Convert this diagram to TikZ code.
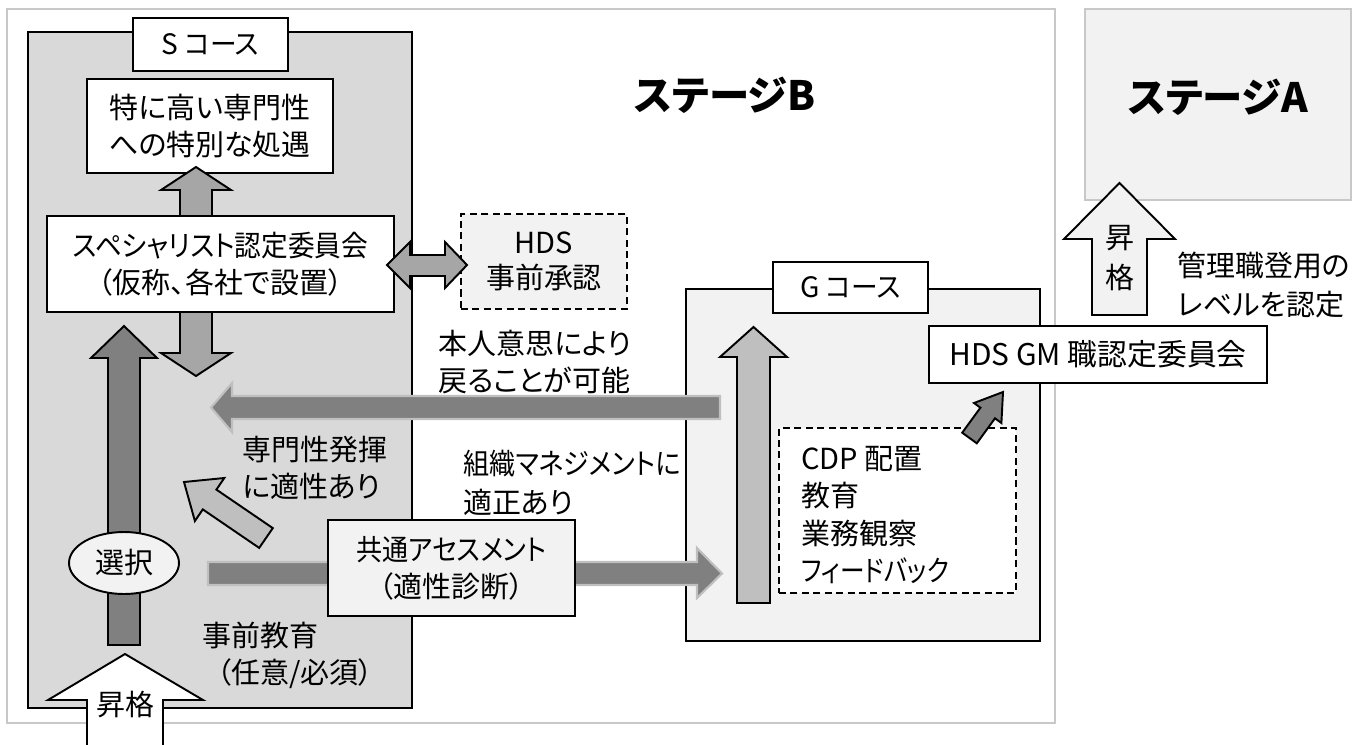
\documentclass[tikz,border=0pt]{standalone}
\usepackage{graphicx}
\usepackage{fontspec}
\setmainfont{Noto Sans CJK JP}[RawFeature=+palt]
\usetikzlibrary{fit,shapes.geometric}
\definecolor{dk}{HTML}{808080}
\definecolor{md}{HTML}{A6A6A6}
\definecolor{lt}{HTML}{BFBFBF}
\definecolor{sb}{HTML}{D9D9D9}
\definecolor{pale}{HTML}{F2F2F2}
\definecolor{edge}{HTML}{C8C8C8}
\newcommand{\sq}[2]{\scalebox{#1}[1]{#2}}
\begin{document}
\begin{tikzpicture}[x=0.02cm,y=-0.02cm,
  font=\fontsize{16.5}{21}\selectfont,
  bx/.style={draw=black,line width=1.1pt,inner sep=0pt},
  dbx/.style={bx,dash pattern=on 4pt off 2.5pt},
  stg/.style={draw=edge,line width=1.2pt,inner sep=0pt},
  txt/.style={inner sep=0pt,align=center},
  blk/.style={draw=black,line width=1.1pt,line join=miter},
  flat/.style={fill=dk,draw=lt,line width=1.2pt,line join=miter},
  lbl/.style={inner sep=0pt,align=left,anchor=west},
  ttl/.style={font=\fontsize{23}{26}\selectfont\bfseries,inner sep=0pt}]
\useasboundingbox (0,0) rectangle (1365,744);
% stages
\node[stg,fit={(7,9)(1055,723)}] (stB) {};
\node[stg,fill=pale,fit={(1085,9)(1351,200)}] (stA) {};
\node[ttl] (tB) at (725,95) {ステージB};
\node[ttl] (tA) at (1218,97) {ステージA};
% courses
\node[bx,fill=sb,fit={(28,32)(412,708)}] (sC) {};
\node[bx,fill=pale,fit={(686,289)(1040,641)}] (gC) {};
\node[bx,fill=white,fit={(133,18)(288,71)}] (sL) {};
\node[txt,font=\fontsize{16}{21}\selectfont] (sLt) at (sL) {S \sq{0.95}{コース}};
\node[bx,fill=white,fit={(773,262)(928,313)}] (gL) {};
\node[txt,font=\fontsize{16}{21}\selectfont] (gLt) at (gL) {G \sq{0.95}{コース}};
% boxes
\node[bx,fill=white,fit={(87,79)(333,173)}] (toku) {};
\node[txt] (tokut) at (toku) {特に高い専門性\\への特別な処遇};
\node[bx,fill=white,fit={(47,216)(394,312)}] (spec) {};
\node[txt] (spect) at (spec) {\sq{0.92}{スペシャリスト認定委員会}\\（仮称、各社で設置）};
\node[dbx,fill=pale,fit={(461,214)(627,309)}] (hds) {};
\node[txt,font=\fontsize{16.5}{19.8}\selectfont] (hdst) at (hds) {HDS\\事前承認};
\node[bx,fill=white,fit={(929,326)(1267,383)}] (gm) {};
\node[txt,font=\fontsize{17}{21}\selectfont] (gmt) at (gm) {HDS GM 職認定委員会};
\node[dbx,fill=white,fit={(779,428)(1016,593)}] (cdp) {};
\node[lbl,font=\fontsize{16.5}{21.3}\selectfont] (cdpt) at (801,515) {CDP 配置\\教育\\業務観察\\\sq{0.85}{フィードバック}};
% S-course arrows
\draw[blk,fill=md] (180,216) -- (180,190) -- (161,190) -- (196,167) -- (231,190) -- (212,190) -- (212,216) -- cycle;
\draw[blk,fill=md] (180,312) -- (180,353) -- (161,353) -- (196,376) -- (231,353) -- (212,353) -- (212,312) -- cycle;
\draw[blk,fill=md] (387,265) -- (410,242) -- (410,255) -- (445,255) -- (445,242) -- (467,265) -- (445,288) -- (445,276) -- (410,276) -- (410,288) -- cycle;
\draw[blk,fill=dk] (108,645) -- (108,358) -- (91,358) -- (124,326) -- (157,358) -- (140,358) -- (140,645) -- cycle;
\node[draw=black,line width=1.1pt,fill=pale,ellipse,minimum width=2.2cm,minimum height=1.24cm,inner sep=0pt] (sel) at (124,563) {選択};
\draw[blk,fill=lt] (272.8,528.1) -- (216.4,489.6) -- (224.3,478.0) -- (184,482) -- (194.9,521.0) -- (202.8,509.4) -- (259.2,547.9) -- cycle;
% flat arrows
\draw[flat] (720,396) -- (232,396) -- (232,383) -- (211,407.5) -- (232,432) -- (232,419) -- (720,419) -- cycle;
\draw[flat] (208,562) -- (697,562) -- (697,548) -- (722,573.5) -- (697,598) -- (697,585) -- (208,585) -- cycle;
\node[bx,fill=pale,fit={(328,520)(575,616)}] (asmt) {};
\node[txt] (asmtt) at (asmt) {\sq{0.9}{共通アセスメント}\\（適性診断）};
% G-course arrows
\draw[blk,fill=lt] (737,603) -- (737,357) -- (720,357) -- (753.5,327) -- (787,357) -- (770,357) -- (770,603) -- cycle;
\draw[blk,fill=dk] (976.8,443.3) -- (995.0,418.3) -- (1001.4,423.0) -- (1003,392) -- (974.0,403.0) -- (980.4,407.7) -- (962.2,432.7) -- cycle;
% promotion arrows
\draw[blk,fill=white] (87,760) -- (87,700) -- (48,700) -- (125,654) -- (203,700) -- (163,700) -- (163,760);
\node[txt] (sho1) at (125,704) {昇格};
\draw[blk,fill=pale] (1092,315) -- (1092,239) -- (1064,239) -- (1119.5,183) -- (1175,239) -- (1147,239) -- (1147,315) -- cycle;
\node[txt,font=\fontsize{16.5}{22.7}\selectfont] (sho2) at (1119.5,258) {昇\\格};
% labels
\node[lbl] (l1) at (438,362) {本人意思により\\戻ることが可能};
\node[lbl] (l2) at (242,468) {専門性発揮\\に適性あり};
\node[lbl,font=\fontsize{16.5}{22}\selectfont] (l3) at (463,483) {\sq{0.9}{組織マネジメントに}\\適正あり};
\node[lbl] (l4) at (202,655) {事前教育\\\hspace*{0.5em}（任意/必須）};
\node[lbl,font=\fontsize{16.5}{22.7}\selectfont] (l5) at (1177,285) {管理職登用の\\レベルを認定};
\end{tikzpicture}
\end{document}
